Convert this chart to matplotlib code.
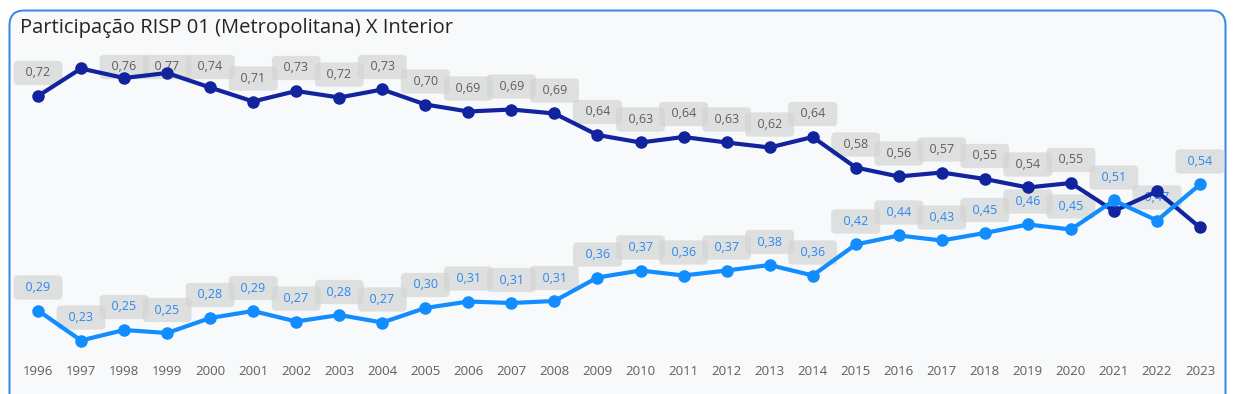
import matplotlib
matplotlib.use("Agg")
import matplotlib.pyplot as plt
from matplotlib.patches import FancyBboxPatch

plt.rcParams['font.family'] = ['Open Sans', 'DejaVu Sans']

# ===== データ =====
anos = list(range(1996, 2024))
risp01 = [0.720, 0.775, 0.756, 0.766, 0.737, 0.709, 0.730, 0.717, 0.733, 0.703,
          0.689, 0.693, 0.685, 0.642, 0.627, 0.638, 0.627, 0.617, 0.638, 0.577,
          0.559, 0.567, 0.554, 0.537, 0.546, 0.490, 0.529, 0.457]
interior = [0.291, 0.231, 0.252, 0.246, 0.276, 0.290, 0.269, 0.282, 0.267, 0.296,
            0.309, 0.306, 0.310, 0.357, 0.371, 0.361, 0.371, 0.382, 0.361, 0.423,
            0.441, 0.431, 0.446, 0.463, 0.453, 0.511, 0.471, 0.543]
# rótulos que o Power BI esconde por sobreposição
mostra_risp = [True] * 28
for i in (1, 25, 26, 27):
    mostra_risp[i] = False
mostra_int = [True] * 28

titulo = "Participação RISP 01 (Metropolitana) X Interior"

cor_risp = "#12239E"
cor_int = "#118DFF"
W, H = 1235, 394
y_min, y_max = 0.212, 0.832

fig = plt.figure(figsize=(W / 100, H / 100), dpi=100)
fig.patch.set_facecolor("white")

# cartão com borda azul
card = FancyBboxPatch((9.5 / W, -0.1), (1225.5 - 9.5) / W, (H - 10.5) / H + 0.1,
                      boxstyle="round,pad=0,rounding_size=0.012",
                      transform=fig.transFigure, facecolor="#F7F9FA",
                      edgecolor="#3A8EE6", linewidth=1.5, zorder=-5,
                      mutation_aspect=W / H)
fig.patches.append(card)

fig.text(20 / W, 1 - 28 / H, titulo, fontsize=14.5, color="#252423",
         va="center", ha="left")

ax = fig.add_axes([38 / W, 1 - 350 / H, (1200 - 38) / W, 310 / H])
ax.set_zorder(1)
ax.set_facecolor("none")
ax.set_xlim(1996, 2023)
ax.set_ylim(y_min, y_max)
for s in ax.spines.values():
    s.set_visible(False)
ax.set_yticks([])
ax.set_xticks(anos)
ax.set_xticklabels([str(a) for a in anos], fontsize=9.5, color="#605E5C")
ax.tick_params(axis="x", length=0, pad=11)

ax.plot(anos, risp01, color=cor_risp, lw=3, marker="o", ms=8, clip_on=False, zorder=3)
ax.plot(anos, interior, color=cor_int, lw=3, marker="o", ms=8, clip_on=False, zorder=3)

fig.canvas.draw()
topo_px = ax.transData.transform((0, y_max))[1] - (67 - 40)


def rotulos(valores, mostra, cor):
    for a, v, m in zip(anos, valores, mostra):
        if not m:
            continue
        py = ax.transData.transform((a, v))[1]
        off = min(23, topo_px - py)
        ax.annotate("  " + f"{v:.2f}".replace(".", ",") + "  ", (a, v),
                    xytext=(0, off), textcoords="offset pixels",
                    ha="center", va="center", fontsize=9, color=cor,
                    annotation_clip=False, zorder=2,
                    bbox=dict(boxstyle="round,pad=0.45,rounding_size=0.35",
                              fc="#D4D4D4", ec="none", alpha=0.7))


rotulos(risp01, mostra_risp, "#605E5C")
rotulos(interior, mostra_int, "#2B88F0")

fig.savefig("out.png", dpi=100, facecolor="white")
